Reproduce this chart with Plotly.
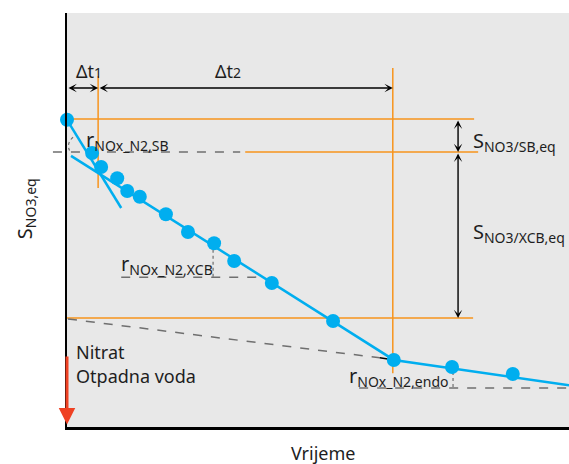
import plotly.graph_objects as go

# Measured nitrate concentration over time (relative units)
time = [0, 5.0, 6.8, 10.0, 12.0, 14.5, 19.7, 24.1, 29.3, 33.3, 40.8, 53.0, 65.1, 76.7, 88.8]
nitrate = [74.2, 66.2, 62.8, 60.1, 57.0, 55.6, 51.4, 47.1, 44.4, 40.1, 34.8, 25.6, 16.2, 14.5, 12.8]

# Rate lines: initial (SB) tangent, and the XCB / endogenous phases
sb_x = [0, 10.8]
sb_y = [74.2, 52.9]
fit_x = [0.8, 65.1, 100]
fit_y = [65.5, 16.2, 10.1]

# Equivalence levels and phase boundaries
lvl_start = 74.4
lvl_sb = 66.4
lvl_xcb = 26.3
t1 = 6.2
t2 = 64.9

CYAN = "#00aeef"
ORANGE = "#f7941d"
GRAY = "#6f6f6f"
RED = "#ef4123"
INK = "#1e1e1e"
FONT = "Noto Sans"

fig = go.Figure()

fig.add_trace(go.Scatter(x=sb_x, y=sb_y, mode="lines",
                         line=dict(color=CYAN, width=2.5), hoverinfo="skip"))
fig.add_trace(go.Scatter(x=fit_x, y=fit_y, mode="lines",
                         line=dict(color=CYAN, width=2.5), hoverinfo="skip"))
fig.add_trace(go.Scatter(x=time, y=nitrate, mode="markers", cliponaxis=False,
                         marker=dict(color=CYAN, size=14, line=dict(width=0))))

shapes = []


def seg(x0, y0, x1, y1, color, width=1.5, dash="solid", xref="x"):
    shapes.append(dict(type="line", xref=xref, yref="y", x0=x0, y0=y0, x1=x1, y1=y1,
                       line=dict(color=color, width=width, dash=dash), layer="below"))


# orange reference levels
seg(0, lvl_start, 81.1, lvl_start, ORANGE)
seg(35.5, lvl_sb, 81.9, lvl_sb, ORANGE)
seg(0, lvl_xcb, 80.9, lvl_xcb, ORANGE)
seg(t1, 84.8, t1, 57.7, ORANGE)
seg(t2, 86.7, t2, 13.0, ORANGE)

# dashed helper lines
seg(-0.028, lvl_sb, 0.345, lvl_sb, GRAY, 1.5, "dash", xref="paper")
seg(0.2, 26.1, 62.3, 16.7, GRAY, 1.5, "dash")
seg(62.3, 16.7, 63.9, 16.4, "#000000", 1.5)
seg(10.8, 36.2, 38.0, 36.2, GRAY, 1.5, "dash")
seg(29.1, 42.8, 29.1, 36.2, GRAY, 1.2, "dot")
seg(58.2, 9.4, 100, 9.4, GRAY, 1.5, "dash")
seg(76.9, 13.3, 76.9, 9.4, GRAY, 1.2, "dot")
shapes.append(dict(type="path", xref="x", yref="y",
                   path="M 1.2,70.0 Q -0.4,68.2 0.8,66.2",
                   line=dict(color=GRAY, width=1.2, dash="dot")))

annotations = []


def double_arrow(x0, y0, x1, y1):
    annotations.append(dict(x=x1, y=y1, ax=x0, ay=y0, xref="x", yref="y",
                            axref="x", ayref="y", text="", showarrow=True,
                            arrowside="end+start", arrowhead=3, startarrowhead=3,
                            arrowsize=1.0, startarrowsize=1.0, arrowwidth=1.4,
                            arrowcolor="#000000"))


double_arrow(0, 81.9, t1, 81.9)
double_arrow(t1, 81.9, t2, 81.9)
double_arrow(77.9, lvl_start, 77.9, lvl_sb)
double_arrow(77.9, lvl_sb, 77.9, lvl_xcb)

# red arrow on the concentration axis
annotations.append(dict(x=0, y=0.6, ax=0, ay=17.4, xref="x", yref="y",
                        axref="x", ayref="y", text="", showarrow=True,
                        arrowside="end", arrowhead=2, arrowsize=1.1,
                        arrowwidth=3, arrowcolor=RED))


def label(x, y, text, size, xanchor="left", xref="x", yref="y", angle=0):
    annotations.append(dict(x=x, y=y, xref=xref, yref=yref, text=text, showarrow=False,
                            xanchor=xanchor, yanchor="middle", textangle=angle,
                            font=dict(family=FONT, size=size, color=INK)))


label(1.3, 86.0, "Δt<span style='font-size:14px'>1</span>", 18)
label(29.0, 86.0, "Δt<span style='font-size:14px'>2</span>", 18)
label(80.5, 69.0, "S<sub>NO3/SB,eq</sub>", 20)
label(80.5, 47.0, "S<sub>NO3/XCB,eq</sub>", 20)
label(3.4, 69.3, "r<sub>NOx_N2,SB</sub>", 20)
label(10.4, 39.2, "r<sub>NOx_N2,XCB</sub>", 20)
label(55.8, 12.3, "r<sub>NOx_N2,endo</sub>", 20)
label(1.3, 18.1, "Nitrat", 18)
label(1.3, 12.2, "Otpadna voda", 18)
label(-0.083, 52.7, "S<sub>NO3,eq</sub>", 20, xanchor="center", xref="paper", angle=-90)
label(0.51, -0.063, "Vrijeme", 18, xanchor="center", xref="paper", yref="paper")

fig.update_layout(
    width=569, height=464,
    margin=dict(l=67, r=0, t=13, b=37),
    paper_bgcolor="white",
    plot_bgcolor="#e8e8e8",
    showlegend=False,
    shapes=shapes,
    annotations=annotations,
    xaxis=dict(range=[0, 100], showgrid=False, zeroline=False, showticklabels=False,
               ticks="", showline=True, linecolor="#000000", linewidth=2.5),
    yaxis=dict(range=[0, 100], showgrid=False, zeroline=False, showticklabels=False,
               ticks="", showline=True, linecolor="#000000", linewidth=2),
)

fig.write_html("out.html")
